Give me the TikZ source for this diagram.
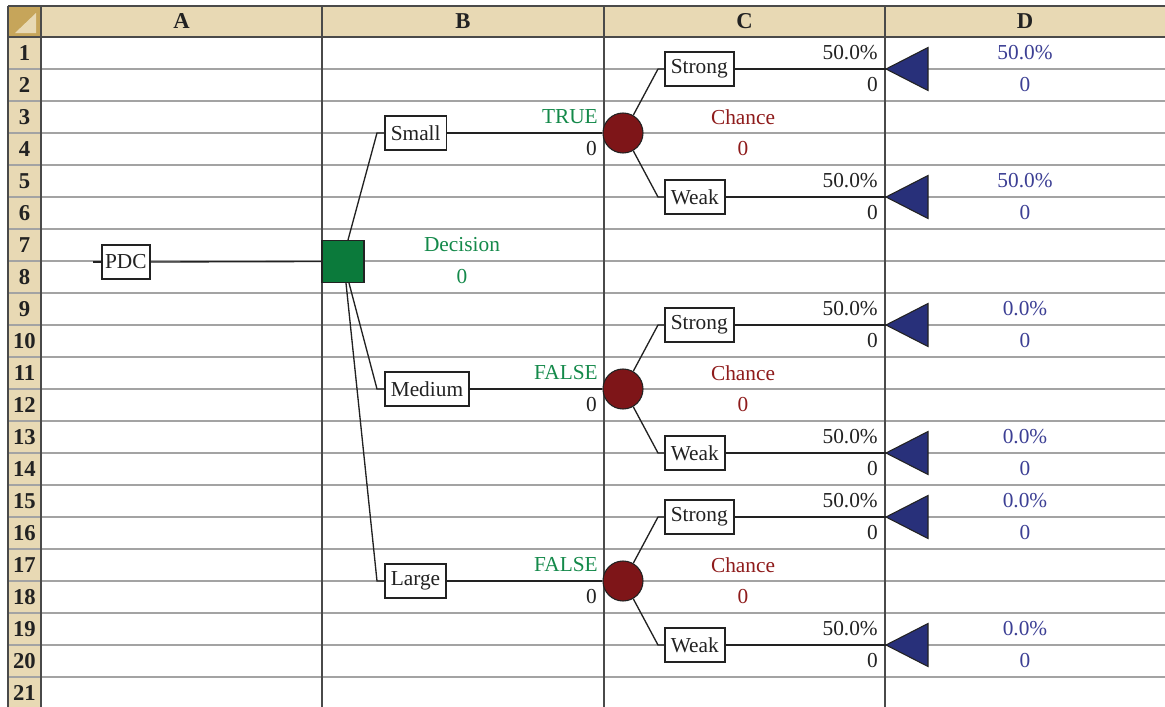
\documentclass[tikz,border=0pt]{standalone}
\usepackage{fontspec}
\setmainfont{Liberation Serif}
\definecolor{hdrbg}{HTML}{E8D9B4}
\definecolor{cornerdk}{HTML}{C6A55A}
\definecolor{gridv}{HTML}{4A4A4A}
\definecolor{gridh}{HTML}{A3A3A3}
\definecolor{txtgreen}{HTML}{14894A}
\definecolor{decfill}{HTML}{0B7A3B}
\definecolor{chfill}{HTML}{7E1518}
\definecolor{chtext}{HTML}{8E1B1B}
\definecolor{navy}{HTML}{28307A}
\definecolor{txtblue}{HTML}{3C3F94}
\definecolor{ink}{HTML}{222222}
\begin{document}
\begin{tikzpicture}[x=0.75pt,y=-0.75pt,
  font=\fontsize{16}{19}\selectfont,
  box/.style={draw=ink, line width=1.2pt, fill=white, inner xsep=4.5pt, inner ysep=0pt, minimum height=25.5pt, text=ink},
  edge/.style={draw=ink, line width=1pt},
  lbl/.style={inner sep=0pt, anchor=center, text=ink},
  rlbl/.style={inner sep=0pt, anchor=east, text=ink},
  hdr/.style={inner sep=0pt, anchor=center, text=ink, font=\fontsize{17}{20}\selectfont\bfseries},
  vline/.style={draw=gridv, line width=1.2pt},
  hline/.style={draw=gridh, line width=1.1pt}]
\useasboundingbox (0,0) rectangle (1165,707);
\clip (0,0) rectangle (1165,707);
% header backgrounds
\fill[hdrbg] (8,6) rectangle (1165,37);
\fill[hdrbg] (8,37) rectangle (41,707);
\fill[cornerdk] (8,6) rectangle (41,37);
\fill[hdrbg] (15,33) -- (36,33) -- (36,13) -- cycle;
% horizontal row lines
\foreach \r in {1,...,20} {
  \draw[hline] (8,37+32*\r) -- (1165,37+32*\r);
}
% header lines
\draw[vline] (8,6) -- (1165,6);
\draw[vline] (8,37) -- (1165,37);
% vertical lines
\foreach \xx in {8,41,322,604,885} {
  \draw[vline] (\xx,6) -- (\xx,707);
}
% column headers
\node[hdr] (hA) at (181.5,21.5) {A};
\node[hdr] (hB) at (463,21.5) {B};
\node[hdr] (hC) at (744.5,21.5) {C};
\node[hdr] (hD) at (1025,21.5) {D};
\foreach \r in {1,...,21} {
  \node[hdr] (rn\r) at (24.5,21+32*\r) {\r};
}
% root
\node[box, anchor=west, inner xsep=2.5pt] (pdc) at (101,262) {PDC};
\coordinate (pdcin) at (93,262);
\node[draw=ink, line width=0.8pt, fill=decfill, minimum size=31.5pt, inner sep=0pt] (dec) at (343,261.5) {};
\draw[edge] (pdcin) -- (pdc.west);
\draw[edge] (pdc.east) -- (dec.west);
\node[lbl, text=txtgreen] (decl) at (462,245) {Decision};
\node[lbl, text=txtgreen] (decv) at (462,277) {0};
% decision branches
\foreach \i/\cy/\name/\tf/\st/\sw/\shift in {1/133/Small/TRUE/50.0\%/50.0\%/3.75pt, 2/389/Medium/FALSE/0.0\%/0.0\%/4.5pt, 3/581/Large/FALSE/0.0\%/0.0\%/2.25pt} {
  \coordinate (e\i) at (377,\cy);
  \node[box, anchor=west] (b\i) at (384,\cy) {\name};
  \node[circle, draw=ink, line width=0.8pt, fill=chfill, minimum size=30pt, inner sep=0pt] (c\i) at (623,\cy) {};
  \draw[edge] ([xshift=\shift]dec.\ifnum\i=1 north\else south\fi) -- (e\i) -- (b\i.west);
  \draw[edge] (b\i.east) -- (c\i.west);
  \node[rlbl, text=txtgreen] (tf\i) at (598,\cy-16) {\tf};
  \node[rlbl] (tv\i) at (597,\cy+16) {0};
  \node[lbl, text=chtext] (cl\i) at (743,\cy-16) {Chance};
  \node[lbl, text=chtext] (cv\i) at (743,\cy+16) {0};
  % strong branch
  \coordinate (es\i) at (658,\cy-64);
  \node[box, anchor=west] (s\i) at (664,\cy-64) {Strong};
  \coordinate (ts\i) at (886,\cy-64);
  \draw[edge] (c\i.60) -- (es\i) -- (s\i.west);
  \draw[edge] (s\i.east) -- (ts\i);
  \draw[draw=ink, line width=0.8pt, fill=navy] (ts\i) -- ++(42,-21.5) -- ++(0,43) -- cycle;
  \node[rlbl] (sp\i) at (878,\cy-80) {50.0\%};
  \node[rlbl] (sv\i) at (878,\cy-48) {0};
  \node[lbl, text=txtblue] (sdp\i) at (1025,\cy-80) {\st};
  \node[lbl, text=txtblue] (sdv\i) at (1025,\cy-48) {0};
  % weak branch
  \coordinate (ew\i) at (658,\cy+64);
  \node[box, anchor=west] (w\i) at (664,\cy+64) {Weak};
  \coordinate (tw\i) at (886,\cy+64);
  \draw[edge] (c\i.-60) -- (ew\i) -- (w\i.west);
  \draw[edge] (w\i.east) -- (tw\i);
  \draw[draw=ink, line width=0.8pt, fill=navy] (tw\i) -- ++(42,-21.5) -- ++(0,43) -- cycle;
  \node[rlbl] (wp\i) at (878,\cy+48) {50.0\%};
  \node[rlbl] (wv\i) at (878,\cy+80) {0};
  \node[lbl, text=txtblue] (wdp\i) at (1025,\cy+48) {\sw};
  \node[lbl, text=txtblue] (wdv\i) at (1025,\cy+80) {0};
}
\end{tikzpicture}
\end{document}
